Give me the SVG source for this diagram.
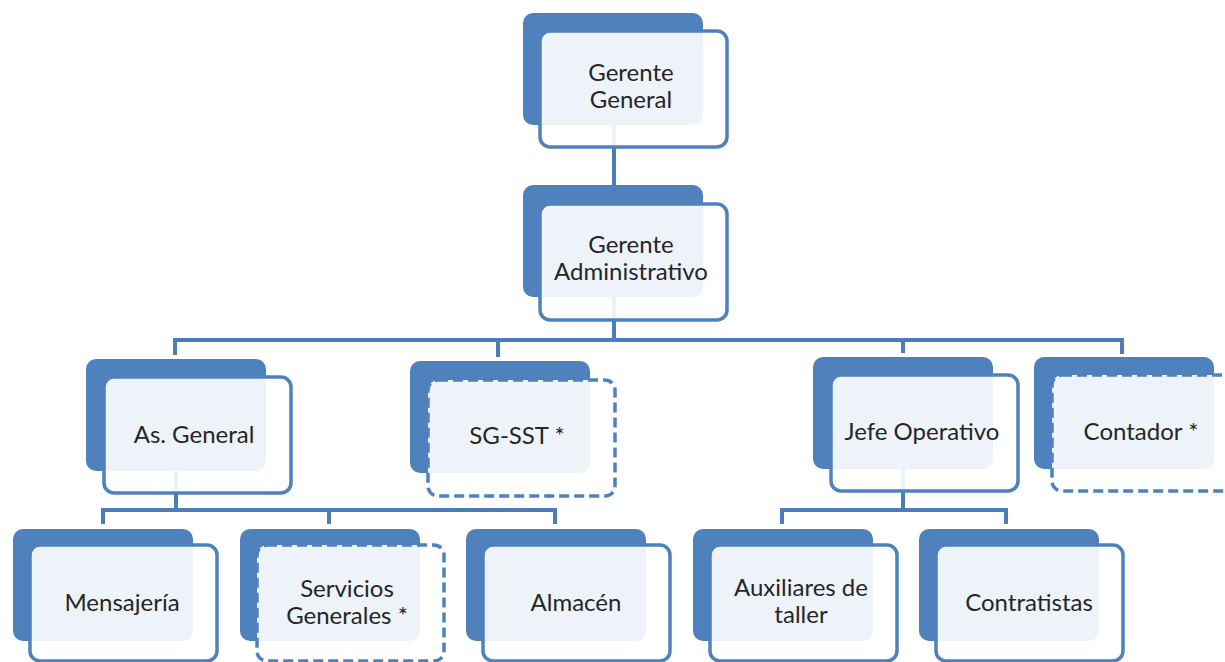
<svg xmlns="http://www.w3.org/2000/svg" width="1225" height="662" viewBox="0 0 1225 662">
<style>
.bg{fill:#FFFFFF}
.back{fill:#4F81BD}
.front{fill:#FFFFFF;fill-opacity:0.9;stroke:#4F81BD;stroke-width:3.5}
.dash{stroke-dasharray:10 5}
.conn{fill:none;stroke:#4A7DB9;stroke-width:4}
.t{font-family:Lato,"Liberation Sans",sans-serif;font-size:24px;fill:#262626;text-anchor:middle}
</style>
<rect class="bg" x="0" y="0" width="1225" height="662"/>
<g id="connectors">
<path class="conn" d="M614,125 V185"/>
<path class="conn" d="M614,297 V340"/>
<path class="conn" d="M175,355 V340 H1122 V354"/>
<path class="conn" d="M498,340 V357"/>
<path class="conn" d="M903,340 V353"/>
<path class="conn" d="M176,471 V510"/>
<path class="conn" d="M103,524 V510 H555 V524"/>
<path class="conn" d="M329,510 V524"/>
<path class="conn" d="M903,469 V510"/>
<path class="conn" d="M782,524 V510 H1006 V524"/>
</g>
<g id="n-gerente-general">
<rect class="back" x="523" y="13" width="180" height="112" rx="10"/>
<rect class="front" x="540" y="31" width="187" height="116" rx="10"/>
<text class="t" x="631" y="81">Gerente</text>
<text class="t" x="631" y="108">General</text>
</g>
<g id="n-gerente-administrativo">
<rect class="back" x="523" y="185" width="180" height="112" rx="10"/>
<rect class="front" x="540" y="204" width="187" height="116" rx="10"/>
<text class="t" x="631" y="253">Gerente</text>
<text class="t" x="631" y="280">Administrativo</text>
</g>
<g id="n-as-general">
<rect class="back" x="86" y="359" width="180" height="112" rx="10"/>
<rect class="front" x="104" y="377" width="187" height="116" rx="10"/>
<text class="t" x="194" y="443">As. General</text>
</g>
<g id="n-sg-sst">
<rect class="back" x="410" y="361" width="180" height="112" rx="10"/>
<rect class="front dash" x="428" y="380" width="187" height="116" rx="10"/>
<text class="t" x="517" y="444">SG-SST *</text>
</g>
<g id="n-jefe-operativo">
<rect class="back" x="813" y="357" width="180" height="112" rx="10"/>
<rect class="front" x="831" y="375" width="187" height="116" rx="10"/>
<text class="t" x="922" y="440">Jefe Operativo</text>
</g>
<g id="n-contador">
<rect class="back" x="1034" y="357" width="180" height="112" rx="10"/>
<rect class="front dash" x="1052" y="375" width="187" height="116" rx="10"/>
<text class="t" x="1141" y="440">Contador *</text>
</g>
<g id="n-mensajeria">
<rect class="back" x="13" y="529" width="180" height="112" rx="10"/>
<rect class="front" x="30" y="545" width="187" height="116" rx="10"/>
<text class="t" x="122" y="611">Mensajería</text>
</g>
<g id="n-servicios-generales">
<rect class="back" x="240" y="529" width="180" height="112" rx="10"/>
<rect class="front dash" x="257" y="545" width="187" height="116" rx="10"/>
<text class="t" x="347" y="597">Servicios</text>
<text class="t" x="347" y="624">Generales *</text>
</g>
<g id="n-almacen">
<rect class="back" x="466" y="529" width="180" height="112" rx="10"/>
<rect class="front" x="483" y="545" width="187" height="116" rx="10"/>
<text class="t" x="576" y="611">Almacén</text>
</g>
<g id="n-auxiliares">
<rect class="back" x="693" y="529" width="180" height="112" rx="10"/>
<rect class="front" x="710" y="545" width="187" height="116" rx="10"/>
<text class="t" x="801" y="596">Auxiliares de</text>
<text class="t" x="801" y="623">taller</text>
</g>
<g id="n-contratistas">
<rect class="back" x="919" y="529" width="180" height="112" rx="10"/>
<rect class="front" x="936" y="545" width="187" height="116" rx="10"/>
<text class="t" x="1029" y="611">Contratistas</text>
</g>
</svg>
